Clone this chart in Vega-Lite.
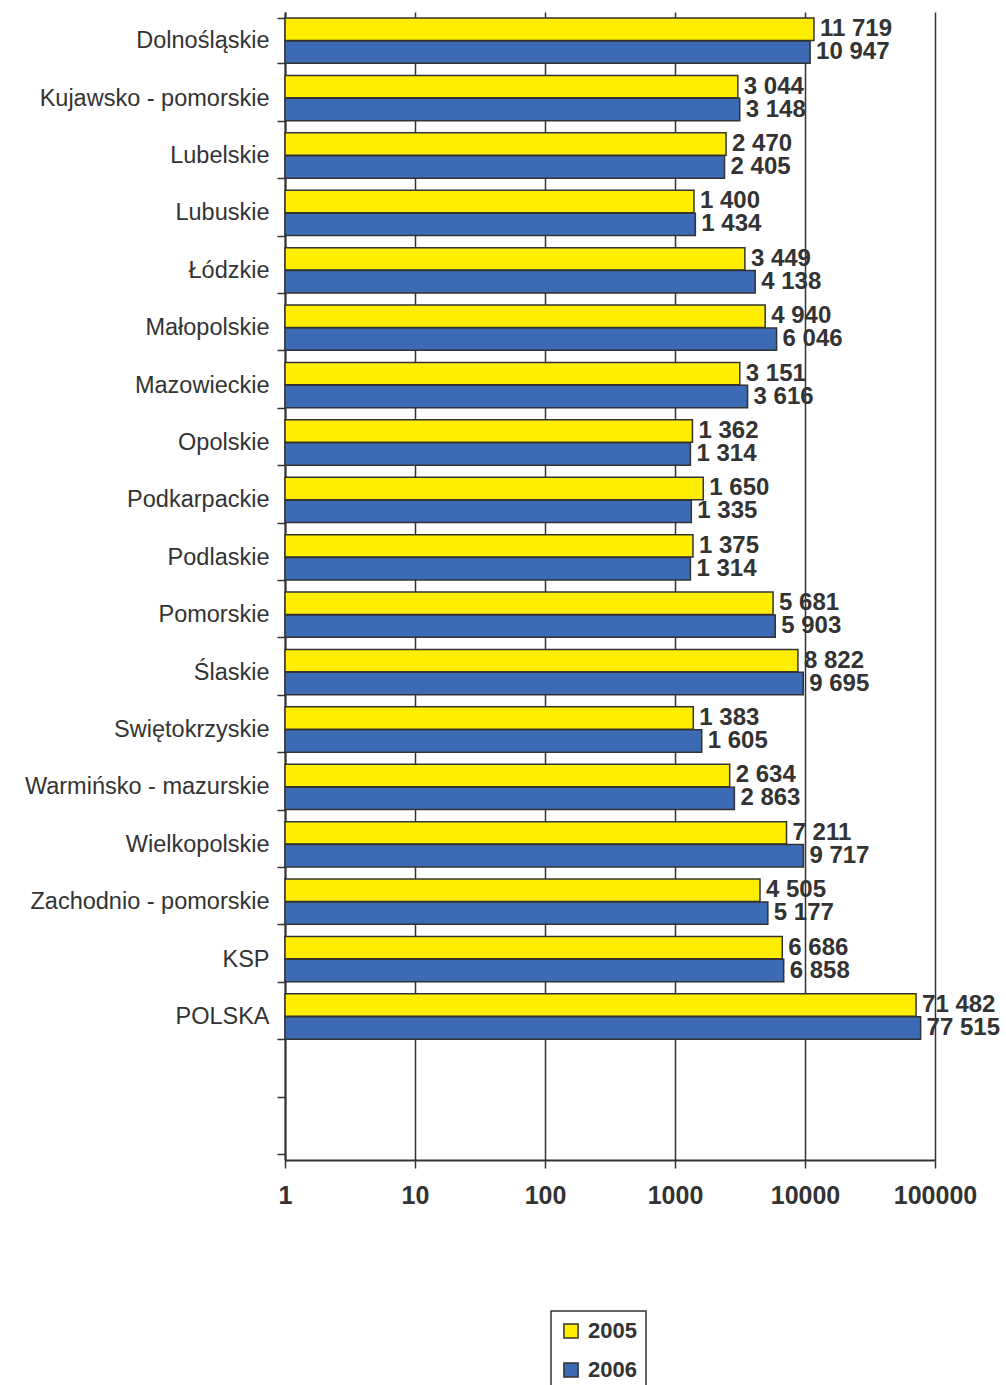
{
  "$schema": "https://vega.github.io/schema/vega-lite/v6.json",
  "width": 650,
  "height": 1148,
  "autosize": {"type": "none"},
  "padding": {"left": 285, "top": 12, "right": 71, "bottom": 225},
  "background": "white",
  "config": {
    "view": {"stroke": null},
    "font": "Liberation Sans",
    "locale": {"number": {"decimal": ",", "thousands": " ", "grouping": [3], "currency": ["", ""]}}
  },
  "data": {
    "values": [
      {"region": "Dolnośląskie", "year": "2005", "value": 11719},
      {"region": "Dolnośląskie", "year": "2006", "value": 10947},
      {"region": "Kujawsko - pomorskie", "year": "2005", "value": 3044},
      {"region": "Kujawsko - pomorskie", "year": "2006", "value": 3148},
      {"region": "Lubelskie", "year": "2005", "value": 2470},
      {"region": "Lubelskie", "year": "2006", "value": 2405},
      {"region": "Lubuskie", "year": "2005", "value": 1400},
      {"region": "Lubuskie", "year": "2006", "value": 1434},
      {"region": "Łódzkie", "year": "2005", "value": 3449},
      {"region": "Łódzkie", "year": "2006", "value": 4138},
      {"region": "Małopolskie", "year": "2005", "value": 4940},
      {"region": "Małopolskie", "year": "2006", "value": 6046},
      {"region": "Mazowieckie", "year": "2005", "value": 3151},
      {"region": "Mazowieckie", "year": "2006", "value": 3616},
      {"region": "Opolskie", "year": "2005", "value": 1362},
      {"region": "Opolskie", "year": "2006", "value": 1314},
      {"region": "Podkarpackie", "year": "2005", "value": 1650},
      {"region": "Podkarpackie", "year": "2006", "value": 1335},
      {"region": "Podlaskie", "year": "2005", "value": 1375},
      {"region": "Podlaskie", "year": "2006", "value": 1314},
      {"region": "Pomorskie", "year": "2005", "value": 5681},
      {"region": "Pomorskie", "year": "2006", "value": 5903},
      {"region": "Ślaskie", "year": "2005", "value": 8822},
      {"region": "Ślaskie", "year": "2006", "value": 9695},
      {"region": "Swiętokrzyskie", "year": "2005", "value": 1383},
      {"region": "Swiętokrzyskie", "year": "2006", "value": 1605},
      {"region": "Warmińsko - mazurskie", "year": "2005", "value": 2634},
      {"region": "Warmińsko - mazurskie", "year": "2006", "value": 2863},
      {"region": "Wielkopolskie", "year": "2005", "value": 7211},
      {"region": "Wielkopolskie", "year": "2006", "value": 9717},
      {"region": "Zachodnio - pomorskie", "year": "2005", "value": 4505},
      {"region": "Zachodnio - pomorskie", "year": "2006", "value": 5177},
      {"region": "KSP", "year": "2005", "value": 6686},
      {"region": "KSP", "year": "2006", "value": 6858},
      {"region": "POLSKA", "year": "2005", "value": 71482},
      {"region": "POLSKA", "year": "2006", "value": 77515}
    ]
  },
  "encoding": {
    "y": {
      "field": "region",
      "type": "nominal",
      "sort": null,
      "scale": {
        "domain": ["Dolnośląskie", "Kujawsko - pomorskie", "Lubelskie", "Lubuskie", "Łódzkie", "Małopolskie", "Mazowieckie", "Opolskie", "Podkarpackie", "Podlaskie", "Pomorskie", "Ślaskie", "Swiętokrzyskie", "Warmińsko - mazurskie", "Wielkopolskie", "Zachodnio - pomorskie", "KSP", "POLSKA", " ", "  "],
        "paddingInner": 0.21,
        "paddingOuter": 0.105
      },
      "axis": {
        "title": null,
        "domainColor": "#333333",
        "domainWidth": 2,
        "tickColor": "#333333",
        "tickWidth": 1.5,
        "tickSize": 8,
        "tickBand": "extent",
        "labelFontSize": 23.5,
        "labelColor": "#333333",
        "labelPadding": 8,
        "labelLimit": 300,
        "labelFont": "Liberation Sans",
        "grid": false
      }
    },
    "yOffset": {"field": "year", "type": "nominal", "scale": {"domain": ["2005", "2006"], "paddingInner": 0.02}},
    "x": {
      "field": "value",
      "type": "quantitative",
      "scale": {"type": "log", "domain": [1, 100000], "nice": false},
      "axis": {
        "title": null,
        "values": [1, 10, 100, 1000, 10000, 100000],
        "format": "d",
        "grid": true,
        "gridColor": "#333333",
        "gridWidth": 1.5,
        "gridOpacity": 1,
        "domainColor": "#333333",
        "domainWidth": 2,
        "tickColor": "#333333",
        "tickWidth": 1.5,
        "tickSize": 8,
        "labelFontSize": 25,
        "labelFontWeight": "bold",
        "labelColor": "#333333",
        "labelPadding": 15,
        "labelFont": "Liberation Sans",
        "labelFlush": false,
        "labelOverlap": false
      }
    }
  },
  "layer": [
    {
      "mark": {"type": "bar", "stroke": "#333333", "strokeWidth": 1.5},
      "encoding": {
        "x2": {"datum": 1},
        "color": {
          "field": "year",
          "type": "nominal",
          "scale": {"domain": ["2005", "2006"], "range": ["#FFEE00", "#3C6AB4"]},
          "legend": {
            "title": null,
            "orient": "none",
            "legendX": 266,
            "legendY": 1299,
            "strokeColor": "#333333",
            "fillColor": "white",
            "padding": 9,
            "symbolType": "square",
            "symbolSize": 200,
            "symbolStrokeColor": "#333333",
            "symbolStrokeWidth": 1.5,
            "symbolOpacity": 1,
            "labelFontSize": 22,
            "labelFontWeight": "bold",
            "labelColor": "#333333",
            "labelFont": "Liberation Sans",
            "rowPadding": 17,
            "labelOffset": 6,
            "encode": {"legend": {"update": {"strokeWidth": {"value": 1.5}}}}
          }
        }
      }
    },
    {
      "mark": {"type": "text", "align": "left", "baseline": "middle", "dx": 6, "fontSize": 24, "fontWeight": "bold", "color": "#333333", "font": "Liberation Sans"},
      "encoding": {
        "text": {"field": "value", "type": "quantitative", "format": ",d"}
      }
    }
  ]
}
